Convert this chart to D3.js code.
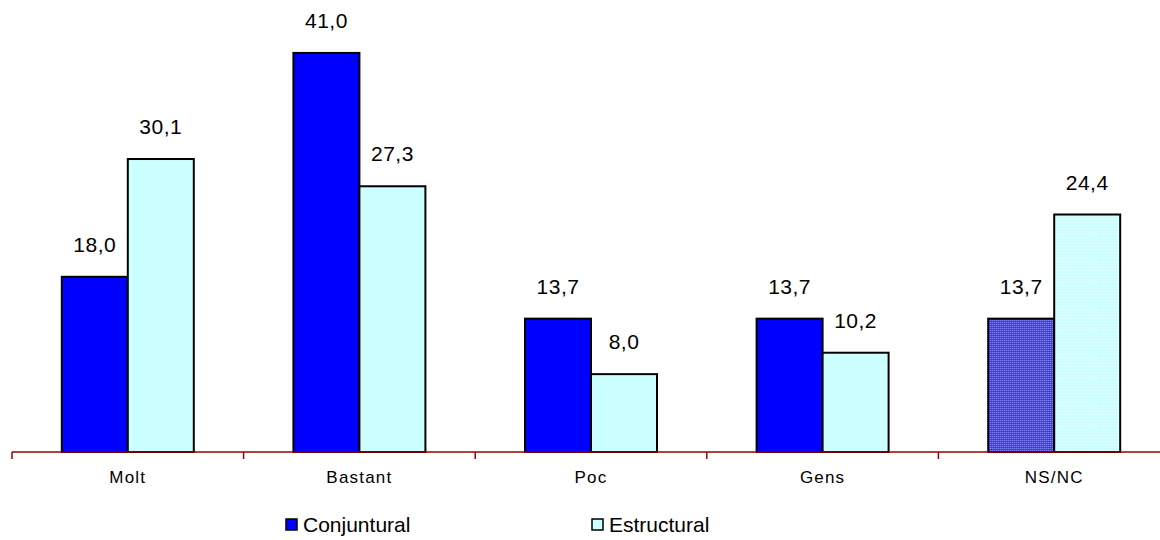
<!DOCTYPE html>
<html>
<head>
<meta charset="utf-8">
<script src="https://cdn.jsdelivr.net/npm/d3@7"></script>
<style>
  body { margin: 0; background: #fff; }
  svg { display: block; font-family: Arial, "Liberation Sans", sans-serif; }
</style>
</head>
<body>
<svg width="1160" height="540"></svg>
<script>
const categories = ['Molt', 'Bastant', 'Poc', 'Gens', 'NS/NC'];
const seriesNames = ['Conjuntural', 'Estructural'];
const conjuntural = [18.0, 41.0, 13.7, 13.7, 13.7];
const estructural = [30.1, 27.3, 8.0, 10.2, 24.4];

const svg = d3.select('svg');
const width = +svg.attr('width');

const colors = { Conjuntural: '#0000ff', Estructural: '#ccffff' };
const fmt = v => d3.format('.1f')(v).replace('.', ',');

// patterns for NS/NC bars
const defs = svg.append('defs');
const p1 = defs.append('pattern').attr('id', 'pat-conj')
  .attr('width', 2).attr('height', 2).attr('patternUnits', 'userSpaceOnUse');
p1.append('rect').attr('width', 2).attr('height', 2).attr('fill', '#3a3af0');
p1.append('rect').attr('width', 1).attr('height', 1).attr('fill', '#9a9aff');
const p2 = defs.append('pattern').attr('id', 'pat-estr')
  .attr('width', 3).attr('height', 3).attr('patternUnits', 'userSpaceOnUse');
p2.append('rect').attr('width', 3).attr('height', 3).attr('fill', '#ccffff');
p2.append('rect').attr('width', 1).attr('height', 1).attr('fill', '#ffffff');

const data = categories.map((c, i) => ({
  cat: c,
  values: [
    { key: 'Conjuntural', value: conjuntural[i] },
    { key: 'Estructural', value: estructural[i] }
  ]
}));

const baseY = 452;
const x0 = d3.scaleBand().domain(categories).range([12, 1170]);
const x1 = d3.scaleBand().domain(seriesNames).range([0, 132]);
const y = d3.scaleLinear().domain([0, 45]).range([baseY, 14]);

const groups = svg.append('g').selectAll('g')
  .data(data)
  .join('g')
  .attr('transform', d => `translate(${x0(d.cat) + (x0.bandwidth() - 132) / 2},0)`);

groups.selectAll('rect')
  .data(d => d.values.map(v => ({ ...v, cat: d.cat })))
  .join('rect')
  .attr('x', d => x1(d.key))
  .attr('y', d => y(d.value))
  .attr('width', x1.bandwidth())
  .attr('height', d => baseY - y(d.value))
  .attr('fill', d => d.cat === 'NS/NC'
    ? (d.key === 'Conjuntural' ? 'url(#pat-conj)' : 'url(#pat-estr)')
    : colors[d.key])
  .attr('stroke', '#000')
  .attr('stroke-width', 2);

groups.selectAll('text')
  .data(d => d.values)
  .join('text')
  .attr('x', d => x1(d.key) + x1.bandwidth() / 2)
  .attr('y', d => y(d.value) - 25)
  .attr('text-anchor', 'middle')
  .attr('font-size', 21)
  .attr('letter-spacing', 0.5)
  .attr('fill', '#000')
  .text(d => fmt(d.value));

// category axis
const xAxis = d3.axisBottom(x0).tickSize(0).tickPadding(19);
const axisG = svg.append('g')
  .attr('transform', `translate(0,${baseY})`)
  .call(xAxis);
axisG.select('.domain').attr('stroke', '#990000').attr('stroke-width', 1.5)
  .attr('d', `M12,0H${width}`);
axisG.selectAll('.tick text')
  .attr('font-size', 17)
  .attr('letter-spacing', 1.2)
  .attr('font-family', 'Arial, "Liberation Sans", sans-serif')
  .attr('fill', '#000');

// tick marks between categories
axisG.selectAll('line.sep')
  .data(categories)
  .join('line')
  .attr('class', 'sep')
  .attr('x1', d => x0(d)).attr('x2', d => x0(d))
  .attr('y1', 0).attr('y2', 7)
  .attr('stroke', '#990000').attr('stroke-width', 1.5);

// legend
const legendX = [286, 592];
const legend = svg.append('g').selectAll('g')
  .data(seriesNames)
  .join('g')
  .attr('transform', (d, i) => `translate(${legendX[i]},519)`);
legend.append('rect')
  .attr('width', 11).attr('height', 11)
  .attr('fill', d => colors[d])
  .attr('stroke', '#000').attr('stroke-width', 1.5);
legend.append('text')
  .attr('x', 17).attr('y', 13)
  .attr('font-size', 21)
  .attr('font-family', '"Liberation Sans Narrow", "Arial Narrow", sans-serif')
  .attr('fill', '#000')
  .text(d => d);
</script>
</body>
</html>
